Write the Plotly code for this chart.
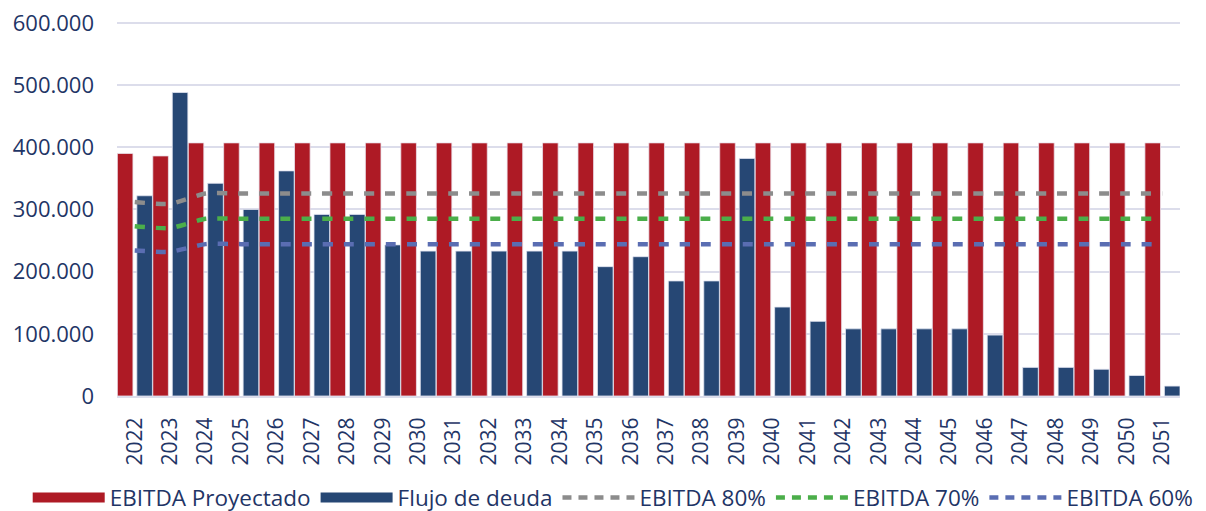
import plotly.graph_objects as go

years = [str(y) for y in range(2022, 2052)]

ebitda_proyectado = [390000, 386000] + [407000] * 28
flujo_deuda = [322000, 488000, 342000, 300000, 362000, 292000, 292000, 243000,
               233000, 233000, 233000, 233000, 233000, 208000, 224000, 185000,
               185000, 382000, 143000, 120000, 108000, 108000, 108000, 108000,
               98000, 46000, 46000, 43000, 33000, 16000]
ebitda_80 = [312000, 309000] + [325600] * 28
ebitda_70 = [273000, 270000] + [284900] * 28
ebitda_60 = [234000, 232000] + [244200] * 28

y_ticks = [0, 100000, 200000, 300000, 400000, 500000, 600000]

RED = "#AE1A25"
BLUE = "#264774"
GRAY = "#8C8C8C"
GREEN = "#4BAE4A"
PURPLE = "#5A6DB2"
TEXT = "#1F3566"
GRID = "#DCDDEB"
FONT = "Open Sans"

fig = go.Figure()

fig.add_trace(go.Bar(x=years, y=ebitda_proyectado, name="EBITDA Proyectado",
                     marker=dict(color=RED, line=dict(color="rgba(235,225,235,0.8)", width=1)),
                     offset=-0.49, width=0.44, showlegend=False))
fig.add_trace(go.Bar(x=years, y=flujo_deuda, name="Flujo de deuda",
                     marker=dict(color=BLUE, line=dict(color="rgba(225,228,240,0.8)", width=1)),
                     offset=0.06, width=0.44, showlegend=False))

dash = "10px,11px"
for vals, col, nm in [(ebitda_80, GRAY, "EBITDA 80%"),
                      (ebitda_70, GREEN, "EBITDA 70%"),
                      (ebitda_60, PURPLE, "EBITDA 60%")]:
    fig.add_trace(go.Scatter(x=years, y=vals, mode="lines", name=nm,
                             line=dict(color=col, width=4.5, dash=dash, shape="spline", smoothing=0.6),
                             showlegend=False))

# legend entries
fig.add_trace(go.Scatter(x=[None], y=[None], mode="lines", name="EBITDA Proyectado",
                         line=dict(color=RED, width=15)))
fig.add_trace(go.Scatter(x=[None], y=[None], mode="lines", name="Flujo de deuda",
                         line=dict(color=BLUE, width=15)))
for col, nm in [(GRAY, "EBITDA 80%"), (GREEN, "EBITDA 70%"), (PURPLE, "EBITDA 60%")]:
    fig.add_trace(go.Scatter(x=[None], y=[None], mode="lines", name=nm,
                             line=dict(color=col, width=4.5, dash="9px,7px")))

# page body adds 8px offset; figure extends slightly below the window so the legend isn't clipped
# y range padded a little above 600.000 so the top gridline is drawn
fig.update_layout(
    width=1198, height=520,
    margin=dict(l=109, r=26, t=13.13, b=132, autoexpand=False),
    paper_bgcolor="white", plot_bgcolor="white",
    separators=",.",
    font=dict(family=FONT, color=TEXT, size=20),
    barmode="group",
    legend=dict(orientation="h", xref="paper", yref="paper",
                x=-0.084, xanchor="left", y=-0.214, yanchor="top",
                font=dict(size=22.5, color=TEXT), itemwidth=72,
                traceorder="normal", tracegroupgap=0),
    xaxis=dict(type="category", tickangle=-90, showgrid=False, automargin=False,
               showline=True, linecolor=GRID, linewidth=2,
               tickfont=dict(size=21, color=TEXT), ticks="", ticklabelstandoff=11),
    yaxis=dict(range=[0, 603000], tickvals=y_ticks, tickformat=",d", automargin=False,
               showgrid=True, gridcolor=GRID, gridwidth=2, ticklabeloverflow="allow",
               zeroline=False, showline=False,
               tickfont=dict(size=22, color=TEXT), ticklabelstandoff=22),
)

fig.write_html("out.html")
